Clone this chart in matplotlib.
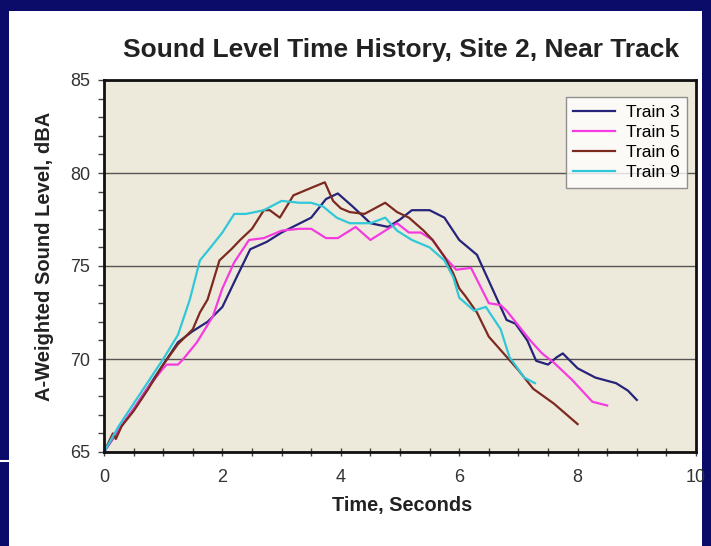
import matplotlib.pyplot as plt
from matplotlib.patches import Rectangle
from matplotlib.lines import Line2D
from matplotlib.ticker import MultipleLocator

plt.rcParams['font.family'] = ['Liberation Sans', 'DejaVu Sans']

# Train 3
t3 = [0, 0.25, 0.5, 0.75, 1.0, 1.25, 1.5, 1.75, 2.0, 2.24, 2.47, 2.75, 3.0, 3.25,
      3.5, 3.75, 3.95, 4.2, 4.5, 4.8, 5.0, 5.2, 5.5, 5.75, 6.0, 6.3, 6.5, 6.7,
      6.8, 6.95, 7.15, 7.3, 7.5, 7.65, 7.75, 8.0, 8.3, 8.65, 8.85, 9.0]
L3 = [65.0, 66.2, 67.3, 68.5, 69.7, 70.9, 71.5, 72.0, 72.8, 74.4, 75.9, 76.3, 76.8, 77.2,
      77.6, 78.6, 78.9, 78.2, 77.3, 77.1, 77.5, 78.0, 78.0, 77.6, 76.4, 75.6, 74.2, 72.8,
      72.1, 71.9, 71.0, 69.9, 69.7, 70.1, 70.3, 69.5, 69.0, 68.7, 68.3, 67.8]

# Train 5
t5 = [0, 0.2, 0.5, 0.75, 1.0, 1.06, 1.25, 1.34, 1.57, 1.84, 2.0, 2.2, 2.45, 2.7, 3.0,
      3.3, 3.5, 3.75, 3.95, 4.25, 4.5, 4.75, 4.95, 5.15, 5.35, 5.55, 5.75, 5.95,
      6.2, 6.5, 6.7, 6.8, 7.0, 7.2, 7.4, 7.6, 7.9, 8.25, 8.5]
L5 = [65.0, 66.0, 67.3, 68.5, 69.5, 69.7, 69.7, 70.0, 70.9, 72.3, 73.8, 75.2, 76.4, 76.5, 76.9,
      77.0, 77.0, 76.5, 76.5, 77.1, 76.4, 76.9, 77.3, 76.8, 76.8, 76.4, 75.5, 74.8,
      74.9, 73.0, 72.9, 72.6, 71.8, 71.0, 70.3, 69.8, 68.9, 67.7, 67.5]

# Train 6
t6 = [0, 0.15, 0.2, 0.3, 0.5, 0.75, 1.0, 1.25, 1.5, 1.62, 1.75, 1.95, 2.15, 2.3, 2.5,
      2.7, 2.8, 2.97, 3.2, 3.5, 3.73, 3.87, 4.0, 4.15, 4.4, 4.75, 4.95, 5.15, 5.4,
      5.55, 5.75, 5.9, 6.0, 6.1, 6.3, 6.5, 6.75, 7.0, 7.25, 7.6, 8.0]
L6 = [65.0, 66.0, 65.7, 66.4, 67.2, 68.4, 69.7, 70.8, 71.6, 72.5, 73.2, 75.3, 75.9, 76.4, 77.0,
      78.0, 78.0, 77.6, 78.8, 79.2, 79.5, 78.5, 78.1, 77.9, 77.8, 78.4, 77.9, 77.6, 76.9,
      76.4, 75.5, 74.6, 73.8, 73.4, 72.5, 71.2, 70.3, 69.4, 68.4, 67.6, 66.5]

# Train 9
t9 = [0, 0.25, 0.5, 0.75, 1.0, 1.25, 1.45, 1.62, 1.8, 2.0, 2.2, 2.4, 2.7, 3.0, 3.3,
      3.5, 3.7, 3.93, 4.15, 4.5, 4.75, 4.95, 5.2, 5.5, 5.75, 5.9, 6.0, 6.25, 6.45,
      6.7, 6.85, 7.1, 7.28]
L9 = [65.0, 66.4, 67.6, 68.8, 70.0, 71.3, 73.2, 75.3, 76.0, 76.8, 77.8, 77.8, 78.0, 78.5, 78.4,
      78.4, 78.2, 77.6, 77.3, 77.3, 77.6, 76.9, 76.4, 76.0, 75.3, 74.4, 73.3, 72.6, 72.8,
      71.6, 70.1, 69.0, 68.7]

series = [("Train 3", t3, L3, "#25237a"),
          ("Train 5", t5, L5, "#f53be0"),
          ("Train 6", t6, L6, "#7c2a20"),
          ("Train 9", t9, L9, "#30c8d8")]

fig = plt.figure(figsize=(7.11, 5.46), dpi=100)
fig.patch.set_facecolor("#0b0b6a")
# white slide panel behind the chart
fig.patches.append(Rectangle((9 / 711, 0), 693 / 711, 535 / 546, transform=fig.transFigure,
                             facecolor="white", edgecolor="none", zorder=-10))
fig.lines.append(Line2D([0, 9 / 711], [1 - 461 / 546, 1 - 461 / 546], transform=fig.transFigure,
                        color="white", lw=1.5, zorder=-5))

ax = fig.add_axes([104 / 711, 1 - 452 / 546, 592 / 711, 372 / 546])
ax.set_facecolor("#eeeadb")

for name, t, L, c in series:
    ax.plot(t, L, color=c, lw=1.6, label=name)

ax.set_xlim(0, 10)
ax.set_ylim(65, 85)
ax.xaxis.set_major_locator(MultipleLocator(2))
ax.xaxis.set_minor_locator(MultipleLocator(0.5))
ax.yaxis.set_major_locator(MultipleLocator(5))
ax.yaxis.set_minor_locator(MultipleLocator(1))
ax.grid(axis="y", which="major", color="#555555", lw=1.0)
ax.tick_params(axis="x", which="both", direction="inout", length=6, width=1, color="#444444",
               labelsize=13, labelcolor="#333333", pad=9)
ax.tick_params(axis="y", which="both", direction="out", length=4, width=1, color="#444444",
               labelsize=13, labelcolor="#333333", pad=6)
for s in ax.spines.values():
    s.set_color("#111111")
    s.set_linewidth(2)

leg = ax.legend(loc="upper right", bbox_to_anchor=(0.985, 0.955), borderaxespad=0,
                fontsize=12.5, frameon=True, fancybox=False, edgecolor="#777777",
                handlelength=2.4, labelspacing=0.28, borderpad=0.45, handletextpad=0.6)
leg.get_frame().set_linewidth(1)

fig.text(401 / 711, 1 - 50 / 546, "Sound Level Time History, Site 2, Near Track",
         ha="center", va="center", fontsize=19, fontweight="bold", color="#222222")
fig.text(45 / 711, 1 - 256 / 546, "A-Weighted Sound Level, dBA", rotation=90,
         ha="center", va="center", fontsize=14.5, fontweight="bold", color="#222222")
fig.text(402 / 711, 1 - 505 / 546, "Time, Seconds", ha="center", va="center",
         fontsize=14.3, fontweight="bold", color="#222222")

fig.savefig("out.png", dpi=100, facecolor=fig.get_facecolor())
